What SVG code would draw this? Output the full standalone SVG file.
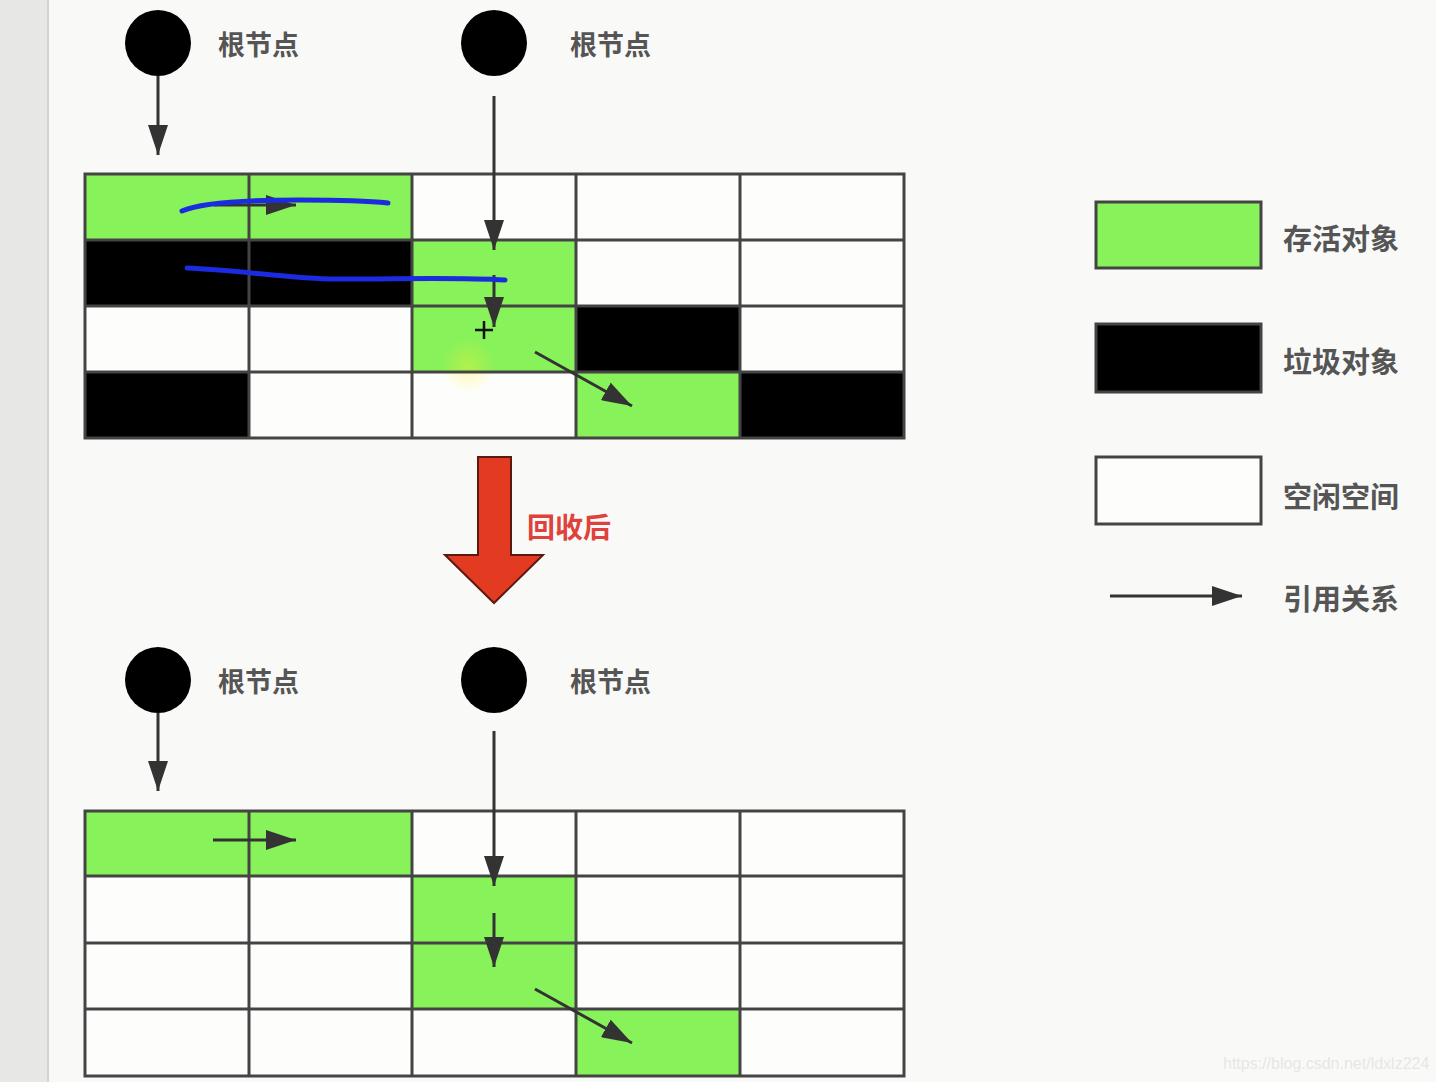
<svg xmlns="http://www.w3.org/2000/svg" width="1436" height="1082" viewBox="0 0 1436 1082">
<style>
.g{fill:#88f25a}.b{fill:#000}.w{fill:#fdfefc}
.grid{fill:none;stroke:#444;stroke-width:3}
.ln{stroke:#333;stroke-width:3;fill:none}
.lbl{font-family:"Liberation Sans","Noto Sans CJK SC",sans-serif;font-weight:700;font-size:27px;fill:#555}
.leg{font-family:"Liberation Sans","Noto Sans CJK SC",sans-serif;font-weight:700;font-size:29px;fill:#555}
.blue{fill:none;stroke:#1a2be0;stroke-width:5;stroke-linecap:round}
</style>
<defs>
<marker id="ah" viewBox="0 0 30 20" refX="30" refY="10" markerWidth="30" markerHeight="20" markerUnits="userSpaceOnUse" orient="auto">
<path d="M0,0 L30,10 L0,20 Z" fill="#333"/>
</marker>
<radialGradient id="glow"><stop offset="0" stop-color="#ffee33" stop-opacity="0.35"/><stop offset="1" stop-color="#ffee33" stop-opacity="0"/></radialGradient>
</defs>
<rect width="1436" height="1082" fill="#f9faf8"/>
<rect width="48" height="1082" fill="#e7e8e6"/>
<rect x="47" width="2" height="1082" fill="#d3d4d2"/>

<g id="heap-before">
<rect class="g" x="85" y="174" width="327" height="66"/>
<rect class="w" x="412" y="174" width="492" height="66"/>
<rect class="b" x="85" y="240" width="327" height="66"/>
<rect class="g" x="412" y="240" width="164" height="66"/>
<rect class="w" x="576" y="240" width="328" height="66"/>
<rect class="w" x="85" y="306" width="327" height="66"/>
<rect class="g" x="412" y="306" width="164" height="66"/>
<rect class="b" x="576" y="306" width="164" height="66"/>
<rect class="w" x="740" y="306" width="164" height="66"/>
<rect class="b" x="85" y="372" width="164" height="66"/>
<rect class="w" x="249" y="372" width="327" height="66"/>
<rect class="g" x="576" y="372" width="164" height="66"/>
<rect class="b" x="740" y="372" width="164" height="66"/>
<circle cx="468" cy="366" r="28" fill="url(#glow)"/>
<path class="grid" d="M85,174H904V438H85Z M85,240H904 M85,306H904 M85,372H904 M249,174V438 M412,174V438 M576,174V438 M740,174V438"/>
</g>

<g id="heap-after">
<rect class="g" x="85" y="811" width="327" height="65"/>
<rect class="w" x="412" y="811" width="492" height="65"/>
<rect class="w" x="85" y="876" width="327" height="133"/>
<rect class="g" x="412" y="876" width="164" height="133"/>
<rect class="w" x="576" y="876" width="328" height="133"/>
<rect class="w" x="85" y="1009" width="491" height="67"/>
<rect class="g" x="576" y="1009" width="164" height="67"/>
<rect class="w" x="740" y="1009" width="164" height="67"/>
<path class="grid" d="M85,811H904V1076H85Z M85,876H904 M85,943H904 M85,1009H904 M249,811V1076 M412,811V1076 M576,811V1076 M740,811V1076"/>
</g>

<g id="root1"><circle cx="158" cy="43" r="33" fill="#000"/><text class="lbl" x="218" y="55">根节点</text></g>
<g id="root2"><circle cx="494" cy="43" r="33" fill="#000"/><text class="lbl" x="570" y="55">根节点</text></g>
<g id="root3"><circle cx="158" cy="680" r="33" fill="#000"/><text class="lbl" x="218" y="692">根节点</text></g>
<g id="root4"><circle cx="494" cy="680" r="33" fill="#000"/><text class="lbl" x="570" y="692">根节点</text></g>

<g id="connectors">
<line class="ln" x1="158" y1="76" x2="158" y2="155" marker-end="url(#ah)"/>
<line class="ln" x1="494" y1="96" x2="494" y2="250" marker-end="url(#ah)"/>
<line class="ln" x1="214" y1="205" x2="296" y2="205" marker-end="url(#ah)"/>
<line class="ln" x1="494" y1="275" x2="494" y2="327" marker-end="url(#ah)"/>
<line class="ln" x1="535" y1="352" x2="632" y2="406" marker-end="url(#ah)"/>
<line class="ln" x1="158" y1="713" x2="158" y2="791" marker-end="url(#ah)"/>
<line class="ln" x1="494" y1="731" x2="494" y2="886" marker-end="url(#ah)"/>
<line class="ln" x1="213" y1="840" x2="296" y2="840" marker-end="url(#ah)"/>
<line class="ln" x1="494" y1="913" x2="494" y2="967" marker-end="url(#ah)"/>
<line class="ln" x1="535" y1="989" x2="632" y2="1043" marker-end="url(#ah)"/>
</g>

<g id="annotations">
<path class="blue" d="M182,211 C200,203 240,200 300,200 C340,200 370,201 388,203"/>
<path class="blue" d="M187,268 C240,270 300,280 340,279 C400,279 460,277 505,280"/>
<path d="M484,321V339 M475,330H493" stroke="#111" stroke-width="2.5"/>
</g>

<g id="collect-arrow">
<path d="M478,457H511V555H543L494,603L445,555H478Z" fill="#e23b22" stroke="#5a1a10" stroke-width="2"/>
<text x="527" y="538" font-family="Liberation Sans,'Noto Sans CJK SC',sans-serif" font-weight="700" font-size="28" fill="#e0413a">回收后</text>
</g>

<g id="legend">
<rect x="1096" y="202" width="165" height="66" fill="#88f25a" stroke="#444" stroke-width="3"/>
<text class="leg" x="1283" y="250">存活对象</text>
<rect x="1096" y="324" width="165" height="68" fill="#000" stroke="#444" stroke-width="3"/>
<text class="leg" x="1283" y="373">垃圾对象</text>
<rect x="1096" y="457" width="165" height="67" fill="#fdfefc" stroke="#444" stroke-width="3"/>
<text class="leg" x="1283" y="508">空闲空间</text>
<line class="ln" x1="1110" y1="596" x2="1242" y2="596" marker-end="url(#ah)"/>
<text class="leg" x="1283" y="610">引用关系</text>
</g>

<text x="1223" y="1069" font-family="Liberation Sans,sans-serif" font-size="16" fill="#e6e7e5">https://blog.csdn.net/ldxlz224</text>
</svg>
